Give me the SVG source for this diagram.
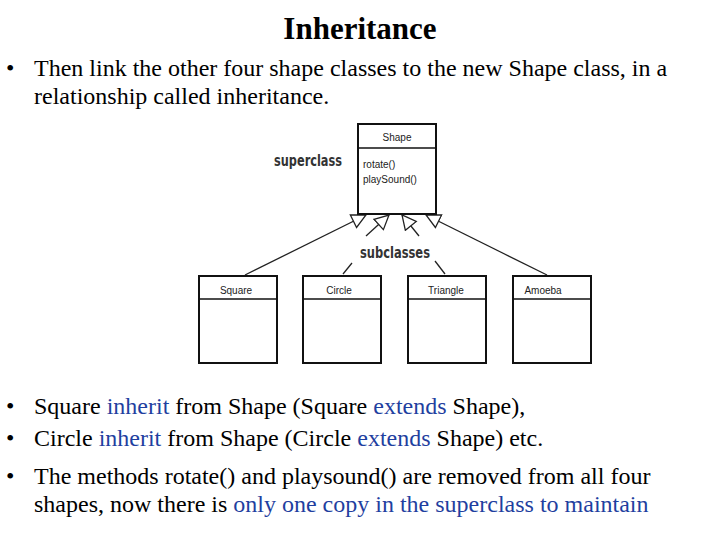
<svg xmlns="http://www.w3.org/2000/svg" width="720" height="540" viewBox="0 0 720 540">
<style>
.t{font-family:"Liberation Serif",serif;font-size:24px;fill:#000}
.b{fill:#1f3fa0}
.box{fill:#fff;stroke:#111;stroke-width:2}
.s{font-family:"Liberation Sans",Arial,sans-serif;font-size:10px;fill:#222}
.h{font-family:"DejaVu Sans Condensed","DejaVu Sans",sans-serif;font-weight:bold;font-size:15px;fill:#333}
.c{stroke:#222;stroke-width:1.3;fill:none}
</style>
<defs><marker id="tri" markerWidth="16" markerHeight="16" refX="15" refY="8" orient="auto" markerUnits="userSpaceOnUse"><path d="M1,1 L15,8 L1,15 Z" fill="#fff" stroke="#222" stroke-width="1.3"/></marker></defs>
<text x="360" y="39" text-anchor="middle" class="t" style="font-size:31px;font-weight:bold">Inheritance</text>
<text x="6" y="76" class="t">•</text><text x="34" y="76" class="t">Then link the other four shape classes to the new Shape class, in a</text>
<text x="34" y="104" class="t">relationship called inheritance.</text>
<g id="connectors">
<path class="c" d="M245,275 L366,215" marker-end="url(#tri)"/>
<path class="c" d="M343,274 L352,263"/><path class="c" d="M366,236 L389,215" marker-end="url(#tri)"/>
<path class="c" d="M445,274 L435,261"/><path class="c" d="M419,236 L402,215" marker-end="url(#tri)"/>
<path class="c" d="M547,275 L426,215" marker-end="url(#tri)"/>
</g>
<g id="shape"><rect class="box" x="358" y="124" width="78" height="90"/><line x1="358" y1="148" x2="436" y2="148" stroke="#111" stroke-width="1.5"/>
<text x="397" y="141" text-anchor="middle" class="s">Shape</text><text x="363" y="168" class="s">rotate()</text><text x="363" y="183" class="s">playSound()</text></g>
<g id="square"><rect class="box" x="199" y="276" width="78" height="87"/><line x1="199" y1="299" x2="277" y2="299" stroke="#111" stroke-width="1.5"/><text x="236" y="294" text-anchor="middle" class="s">Square</text></g>
<g id="circle"><rect class="box" x="303" y="276" width="78" height="87"/><line x1="303" y1="299" x2="381" y2="299" stroke="#111" stroke-width="1.5"/><text x="339" y="294" text-anchor="middle" class="s">Circle</text></g>
<g id="triangle"><rect class="box" x="408" y="276" width="78" height="87"/><line x1="408" y1="299" x2="486" y2="299" stroke="#111" stroke-width="1.5"/><text x="446" y="294" text-anchor="middle" class="s">Triangle</text></g>
<g id="amoeba"><rect class="box" x="513" y="276" width="78" height="87"/><line x1="513" y1="299" x2="591" y2="299" stroke="#111" stroke-width="1.5"/><text x="543" y="294" text-anchor="middle" class="s">Amoeba</text></g>
<text x="274" y="166" class="h" textLength="68" lengthAdjust="spacingAndGlyphs">superclass</text>
<text x="360" y="258" class="h" textLength="70" lengthAdjust="spacingAndGlyphs">subclasses</text>
<text x="6" y="414" class="t">•</text><text x="34" y="414" class="t">Square <tspan class="b">inherit</tspan> from Shape (Square <tspan class="b">extends</tspan> Shape),</text>
<text x="6" y="446" class="t">•</text><text x="34" y="446" class="t">Circle <tspan class="b">inherit</tspan> from Shape (Circle <tspan class="b">extends</tspan> Shape) etc.</text>
<text x="6" y="484" class="t">•</text><text x="34" y="484" class="t">The methods rotate() and playsound() are removed from all four</text>
<text x="34" y="512" class="t">shapes, now there is <tspan class="b">only one copy in the superclass to maintain</tspan></text>
</svg>
